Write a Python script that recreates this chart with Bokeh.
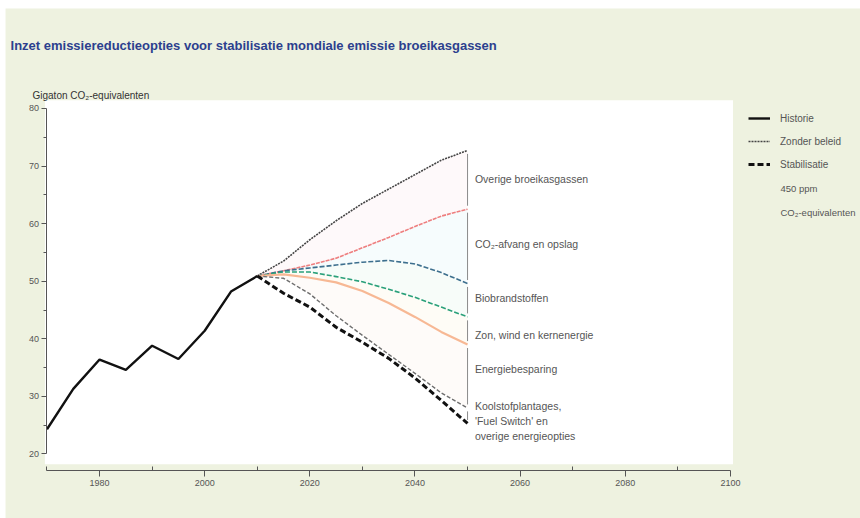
from bokeh.plotting import figure
from bokeh.models import Range1d, LinearAxis, FixedTicker, BoxAnnotation, Label, Legend, LegendItem
from bokeh.embed import file_html
from bokeh.resources import INLINE

# ---------------- data ----------------
hist_years = [1970, 1975, 1980, 1985, 1990, 1995, 2000, 2005, 2010]
historie = [24.3, 31.3, 36.4, 34.6, 38.8, 36.5, 41.4, 48.2, 50.9]

proj_years = [2010, 2015, 2020, 2025, 2030, 2035, 2040, 2045, 2050]
zonder_beleid = [50.9, 53.5, 57.2, 60.5, 63.5, 66.0, 68.5, 71.0, 72.7]
na_overige = [50.9, 51.8, 52.8, 54.0, 55.8, 57.6, 59.5, 61.3, 62.5]
na_co2_opslag = [50.9, 51.8, 52.3, 52.8, 53.3, 53.6, 53.0, 51.5, 49.6]
na_biobrandstof = [50.9, 51.6, 51.6, 50.8, 49.9, 48.6, 47.2, 45.5, 43.8]
na_zon_wind_kern = [50.9, 51.2, 50.6, 49.8, 48.3, 46.2, 43.8, 41.2, 39.0]
na_besparing = [50.9, 50.5, 47.8, 44.0, 40.6, 37.3, 34.0, 30.6, 28.0]
stabilisatie = [50.9, 47.9, 45.5, 42.0, 39.4, 36.6, 33.2, 29.3, 25.3]

wedge_labels = [
    ["Overige broeikasgassen"],
    ["CO\u2082-afvang en opslag"],
    ["Biobrandstoffen"],
    ["Zon, wind en kernenergie"],
    ["Energiebesparing"],
    ["Koolstofplantages,", "'Fuel Switch' en", "overige energieopties"],
]
x_ticks = [1980, 2000, 2020, 2040, 2060, 2080, 2100]
x_minor = [1970, 1990, 2010, 2030, 2050, 2070, 2090]
y_ticks = [20, 30, 40, 50, 60, 70, 80]
y_minor = [25, 35, 45, 55, 65, 75]

title_text = "Inzet emissiereductieopties voor stabilisatie mondiale emissie broeikasgassen"
y_label_text = "Gigaton CO\u2082-equivalenten"
legend_labels = ["Historie", "Zonder beleid", "Stabilisatie"]
legend_extra = ["450 ppm", "CO\u2082-equivalenten"]

# ---------------- style / layout ----------------
BG = "#eef2e0"
FONT = "Liberation Sans"
TXT = "#555555"

p = figure(frame_width=860, frame_height=518,
           x_range=Range1d(1961.155, 2124.75), y_range=Range1d(8.802, 98.733),
           output_backend="svg", toolbar_location=None,
           x_axis_location=None, y_axis_location=None, min_border=0,
           background_fill_color="white", border_fill_color="white", outline_line_color=None)
p.grid.visible = False

# page background (green) and white plotting panel
p.add_layout(BoxAnnotation(left=1962.11, top=97.34, fill_color=BG, fill_alpha=1.0,
                           line_alpha=0, level="underlay"))
p.add_layout(BoxAnnotation(left=1969.6, right=2100.5, bottom=18.2, top=81.4,
                           fill_color="white", fill_alpha=1.0, line_alpha=0, level="underlay"))

# axes
xaxis = LinearAxis(ticker=FixedTicker(ticks=x_ticks, minor_ticks=x_minor), bounds=(1970, 2100),
                   fixed_location=17.14,
                   axis_line_color="#555555", major_tick_line_color="#555555",
                   minor_tick_line_color="#555555", major_tick_out=6, major_tick_in=0,
                   minor_tick_in=4, minor_tick_out=0,
                   major_label_text_font=FONT, major_label_text_font_size="9px",
                   major_label_text_color=TXT, major_label_standoff=4)
p.add_layout(xaxis, "below")
yaxis = LinearAxis(ticker=FixedTicker(ticks=y_ticks, minor_ticks=y_minor), bounds=(20, 80),
                   fixed_location=1970,
                   axis_line_color="#555555", major_tick_line_color="#555555",
                   minor_tick_line_color="#555555", major_tick_out=5, major_tick_in=0,
                   minor_tick_out=3, minor_tick_in=0,
                   major_label_text_font=FONT, major_label_text_font_size="9px",
                   major_label_text_color=TXT, major_label_standoff=3)
p.add_layout(yaxis, "left")

# faint wedge fills
fill_specs = [
    (zonder_beleid, na_overige, "#fbeff0"),
    (na_overige, na_co2_opslag, "#e6f5f9"),
    (na_co2_opslag, na_biobrandstof, "#e8f6ef"),
    (na_biobrandstof, na_zon_wind_kern, "#fcf6e4"),
    (na_zon_wind_kern, na_besparing, "#fdf3ee"),
]
for top, bot, col in fill_specs:
    p.varea(x=proj_years, y1=bot, y2=top, fill_color=col, fill_alpha=0.35)

# lines
r_zonder = p.line(proj_years, zonder_beleid, line_color="#444444", line_width=1.6, line_dash="2 1")
p.line(proj_years, na_overige, line_color="#ee7f7f", line_width=1.6, line_dash="4 1")
p.line(proj_years, na_co2_opslag, line_color="#3d6f8e", line_width=1.6, line_dash="5 2")
p.line(proj_years, na_biobrandstof, line_color="#2aa07a", line_width=1.6, line_dash="5 2")
p.line(proj_years, na_zon_wind_kern, line_color="#f7b894", line_width=2.2)
p.line(proj_years, na_besparing, line_color="#6e6e6e", line_width=1.4, line_dash="4 2")
r_stab = p.line(proj_years, stabilisatie, line_color="#111111", line_width=3, line_dash="6 3")
r_hist = p.line(hist_years, historie, line_color="#111111", line_width=2.4)

# brackets at the end year
ends = [zonder_beleid[-1], na_overige[-1], na_co2_opslag[-1], na_biobrandstof[-1],
        na_zon_wind_kern[-1], na_besparing[-1], stabilisatie[-1]]
gap = 0.6
x_end = proj_years[-1]
p.segment(x0=[x_end] * 6, x1=[x_end] * 6,
          y0=[e - gap for e in ends[:-1]], y1=[e + gap for e in ends[1:]],
          line_color="#8a8a8a", line_width=1)

# wedge labels
label_y = [67.8, 56.4, 47.0, 40.6, 34.7, 28.4]
line_step = 2.6
for lines, y in zip(wedge_labels, label_y):
    for i, t in enumerate(lines):
        p.add_layout(Label(x=2051.4, y=y - i * line_step, text=t, text_font=FONT,
                           text_font_size="10.5px", text_color=TXT, text_baseline="middle"))

# title and y-axis label
p.add_layout(Label(x=1963.06, y=90.92, text=title_text, text_font=FONT, text_font_size="13px",
                   text_font_style="bold", text_color="#2c3f8e", text_baseline="middle"))
p.add_layout(Label(x=1967.24, y=82.24, text=y_label_text, text_font=FONT, text_font_size="10px",
                   text_color="#333333", text_baseline="middle"))

# legend
legend = Legend(items=[LegendItem(label=legend_labels[0], renderers=[r_hist]),
                       LegendItem(label=legend_labels[1], renderers=[r_zonder]),
                       LegendItem(label=legend_labels[2], renderers=[r_stab])],
                location=(748, 348), padding=0, margin=0, spacing=11,
                glyph_width=22, glyph_height=12, label_height=12, label_standoff=10,
                label_text_font=FONT, label_text_font_size="10px", label_text_color=TXT,
                background_fill_alpha=0, border_line_alpha=0)
p.add_layout(legend, "center")
for i, t in enumerate(legend_extra):
    p.add_layout(Label(x=2109.53, y=66.09 - i * 4.16, text=t, text_font=FONT,
                       text_font_size="9.5px", text_color=TXT, text_baseline="middle"))

open("out.html", "w").write(file_html(p, INLINE))
